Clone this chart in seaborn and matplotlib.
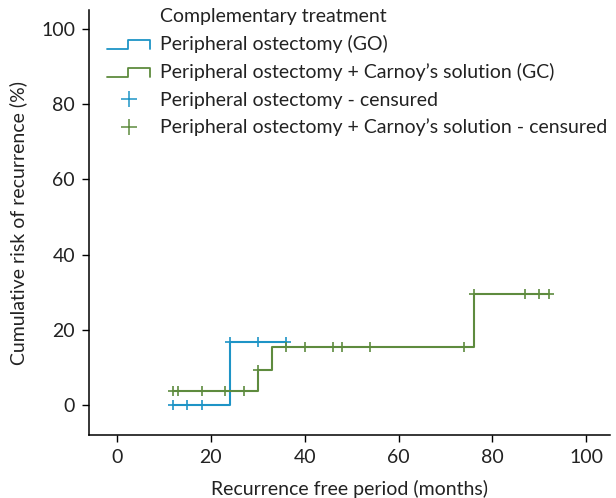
import matplotlib
matplotlib.use("Agg")
import matplotlib.pyplot as plt
import seaborn as sns
import pandas as pd
import numpy as np
from matplotlib.lines import Line2D
from matplotlib.legend_handler import HandlerLine2D

# ---- data ----
go_times = [12, 24, 36]
go_risk = [0.0, 16.7, 16.7]
go_censor = [12, 15, 18, 24, 30, 36]

gc_times = [12, 30, 33, 76, 92]
gc_risk = [3.6, 9.4, 15.3, 29.6, 29.6]
gc_censor = [12, 13, 18, 23, 27, 30, 36, 40, 46, 48, 54, 74, 76, 87, 90, 92]

group_names = ["Peripheral ostectomy (GO)", "Peripheral ostectomy + Carnoy\u2019s solution (GC)"]
censor_names = ["Peripheral ostectomy - censured", "Peripheral ostectomy + Carnoy\u2019s solution - censured"]
legend_title = "Complementary treatment"
x_ticks = [0, 20, 40, 60, 80, 100]
y_ticks = [0, 20, 40, 60, 80, 100]

BLUE = "#1e94c6"
GREEN = "#5e8b3e"
TXT = "#222222"

sns.set_theme(style="ticks")
plt.rcParams["font.family"] = ["Lato", "DejaVu Sans"]

fig = plt.figure(figsize=(6.16, 4.98), dpi=100)
ax = fig.add_axes([0.1445, 0.1265, 0.845, 0.853])


def level_at(times, risk, t):
    idx = np.searchsorted(times, t, side="right") - 1
    return risk[max(idx, 0)]


curves = pd.concat([
    pd.DataFrame({"time": go_times, "risk": go_risk, "group": group_names[0]}),
    pd.DataFrame({"time": gc_times, "risk": gc_risk, "group": group_names[1]}),
])
cens = pd.concat([
    pd.DataFrame({"time": go_censor,
                  "risk": [level_at(go_times, go_risk, t) for t in go_censor],
                  "group": censor_names[0]}),
    pd.DataFrame({"time": gc_censor,
                  "risk": [level_at(gc_times, gc_risk, t) for t in gc_censor],
                  "group": censor_names[1]}),
])

sns.lineplot(data=curves, x="time", y="risk", hue="group",
             palette=[BLUE, GREEN], estimator=None, sort=False,
             drawstyle="steps-post", linewidth=1.5, legend=False, ax=ax)
for name, col in zip(censor_names, [BLUE, GREEN]):
    sub = cens[cens["group"] == name]
    ax.plot(sub["time"], sub["risk"], linestyle="none", marker="+",
            markersize=7, markeredgewidth=1.2, color=col)

ax.set_xlim(-6, 105)
ax.set_ylim(-8, 105)
ax.set_xticks(x_ticks)
ax.set_yticks(y_ticks)
ax.tick_params(axis="both", labelsize=14, length=5, width=1, color="black",
               labelcolor=TXT, pad=5)
ax.set_xlabel("Recurrence free period (months)", fontsize=14, color=TXT, labelpad=10)
ax.set_ylabel("Cumulative risk of recurrence (%)", fontsize=14, color=TXT, labelpad=10)
for s in ["top", "right"]:
    ax.spines[s].set_visible(False)
for s in ["left", "bottom"]:
    ax.spines[s].set_color("black")
    ax.spines[s].set_linewidth(1.1)


class StepHandler(HandlerLine2D):
    def create_artists(self, legend, orig_handle, xdescent, ydescent,
                       width, height, fontsize, trans):
        x0 = -xdescent
        y0 = -ydescent
        lo = y0 + height * 0.12
        hi = y0 + height * 0.78
        xs = [x0, x0 + width * 0.48, x0 + width * 0.48, x0 + width, x0 + width]
        ys = [lo, lo, hi, hi, lo]
        ln = Line2D(xs, ys, color=orig_handle.get_color(), linewidth=1.3)
        ln.set_transform(trans)
        return [ln]


h0 = Line2D([], [], linestyle="none", color="none")
h1 = Line2D([], [], color=BLUE)
h2 = Line2D([], [], color=GREEN)
h3 = Line2D([], [], color=BLUE, linestyle="none", marker="+", markersize=12, markeredgewidth=1.1)
h4 = Line2D([], [], color=GREEN, linestyle="none", marker="+", markersize=12, markeredgewidth=1.1)
leg = ax.legend([h0, h1, h2, h3, h4], [legend_title] + group_names + censor_names,
                loc="upper left",
                bbox_to_anchor=(0.035, 1.005), frameon=False,
                fontsize=14, borderpad=0.0,
                handler_map={h1: StepHandler(), h2: StepHandler()},
                handlelength=2.2, handletextpad=0.5, labelspacing=0.52,
                borderaxespad=0.0)
for t in leg.get_texts():
    t.set_color(TXT)

fig.savefig("out.png", dpi=100)
